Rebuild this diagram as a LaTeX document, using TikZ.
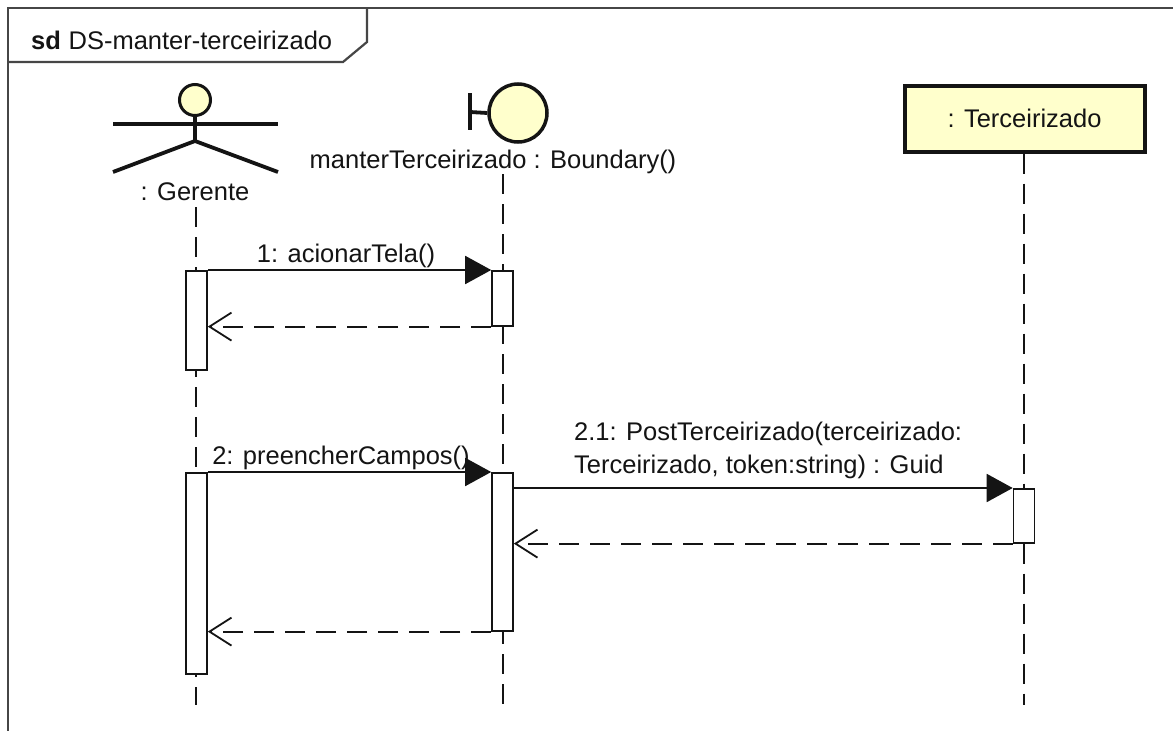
\documentclass[tikz,border=0pt]{standalone}
\usepackage{fontspec}
\setmainfont{Liberation Sans}
\usetikzlibrary{arrows.meta,calc}
\definecolor{uyellow}{RGB}{255,255,204}
\definecolor{ink}{RGB}{20,20,20}
\definecolor{framegray}{RGB}{70,70,70}
\begin{document}
\begin{tikzpicture}[x=1pt,y=-1pt,
  lbl/.style={font=\fontsize{25.5}{33}\selectfont, text=ink, inner sep=0pt},
  lifeline/.style={draw=ink, line width=1.9pt, dash pattern=on 20pt off 10pt},
  actbox/.style={draw=ink, fill=white, line width=1.6pt, minimum width=21pt, inner sep=0pt, rectangle},
  callmsg/.style={draw=ink, line width=1.8pt, -{Triangle[length=26pt,width=28pt]}},
  retmsg/.style={draw=ink, line width=1.8pt, dash pattern=on 20pt off 11pt, -{Straight Barb[length=22pt,width=28pt,line width=1.8pt]}},
  actorline/.style={draw=ink, line width=3.8pt},
]
\useasboundingbox (0,0) rectangle (1173,731);
\fill[white] (0,0) rectangle (1173,731);
\clip (0,0) rectangle (1173,731);

% frame
\draw[framegray, line width=2.2pt] (8,745) -- (8,8) -- (1190,8);
\draw[framegray, line width=2.2pt] (8,62) -- (343,62) -- (367,42) -- (367,8);
\node[lbl, anchor=west] (title) at (31,40) {\textbf{sd}\hspace{0.3em}DS-manter-terceirizado};

% actor Gerente
\coordinate (gbody) at (195,141);
\draw[actorline] (113,124) -- (278,124);
\draw[actorline] (195,114) -- (gbody);
\draw[actorline] (113,172) -- (gbody) -- (278,172);
\node[circle, draw=ink, fill=uyellow, line width=3pt, minimum size=31pt, inner sep=0pt] (ghead) at (195,100) {};
\node[lbl] (glabel) at (195,192) {: Gerente};

% boundary
\node[circle, draw=ink, fill=uyellow, line width=3.5pt, minimum size=58pt, inner sep=0pt] (bcirc) at (518,113) {};
\coordinate (bbar) at (470,112);
\draw[actorline] (470,93) -- (470,130);
\draw[actorline] (bbar) -- (bcirc.west);
\node[lbl] (blabel) at (493,162) {manterTerceirizado : Boundary()};

% Terceirizado
\node[draw=ink, fill=uyellow, line width=4pt, minimum width=240pt, minimum height=66pt, inner sep=0pt, lbl] (ter) at (1024.5,118.5) {: Terceirizado};

% lifelines
\coordinate (gend) at (196,705);
\coordinate (bend) at (503,705);
\coordinate (tend) at (1024,705);
\draw[lifeline] (196,207) -- (gend);
\draw[lifeline] (503,174) -- (bend);
\draw[lifeline] (ter.south -| tend) -- (tend);

% activations
\node[actbox, minimum height=99pt, anchor=north] (ga1) at (196.5,270) {};
\node[actbox, minimum height=55pt, anchor=north] (ba1) at (502.5,270) {};
\node[actbox, minimum height=201pt, anchor=north] (ga2) at (196.5,472) {};
\node[actbox, minimum height=158pt, anchor=north] (ba2) at (502.5,472) {};
\node[actbox, minimum height=54pt, anchor=north] (ta1) at (1024,488) {};

% messages
\draw[callmsg] (ga1.north east) -- (ba1.north west);
\node[lbl] (m1) at (346,256) {1: acionarTela()};
\draw[retmsg] (ba1.south west) -- (ga1.east |- ba1.south west);

\draw[callmsg] (ga2.north east) -- (ba2.north west);
\node[lbl] (m2) at (341,458) {2: preencherCampos()};

\draw[callmsg] (ba2.east |- ta1.north) -- (ta1.north west);
\node[lbl, anchor=west, align=left] (m21) at (574,450) {2.1: PostTerceirizado(terceirizado:\\Terceirizado, token:string) : Guid};
\draw[retmsg] (ta1.south west) -- (ba2.east |- ta1.south west);

\draw[retmsg] (ba2.south west) -- (ga2.east |- ba2.south west);
\end{tikzpicture}
\end{document}
